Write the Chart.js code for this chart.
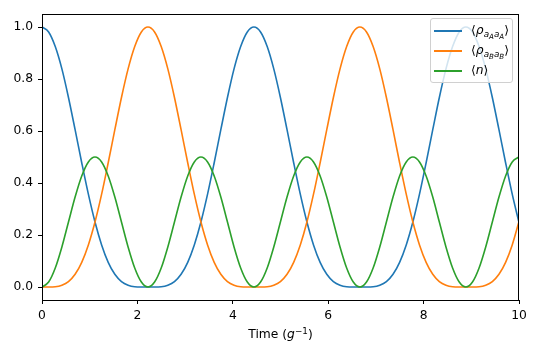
<!DOCTYPE html>
<html>
<head>
<meta charset="utf-8">
<script src="https://cdn.jsdelivr.net/npm/chart.js@4.4.1/dist/chart.umd.min.js"></script>
<style>
  body { margin: 0; background: #fff; }
  #wrap { position: relative; width: 540px; height: 360px; font-family: "DejaVu Sans", sans-serif; color: #000; }
  #legend {
    position: absolute; left: 430px; top: 18px; width: 83px; height: 65px;
    background: rgba(255,255,255,0.8); border: 1px solid #d0d0d0; border-radius: 3px;
    box-sizing: border-box; padding-top: 2px;
  }
  .row { position: relative; height: 20px; line-height: 20px; font-size: 12.3px; }
  .row .sw { position: absolute; left: 3px; top: 9px; width: 28px; height: 2px; }
  .row .tx { position: absolute; left: 40px; top: -1px; white-space: nowrap; }
  .row sub { font-size: 72%; vertical-align: -0.3em; line-height: 0; }
  .row sub sub { font-size: 80%; vertical-align: -0.25em; }
  #xtitle { position: absolute; left: 180px; width: 201px; top: 327px; text-align: center; font-size: 12.3px; }
  #xtitle sup { font-size: 72%; vertical-align: 0.45em; line-height: 0; }
</style>
</head>
<body>
<div id="wrap">
  <canvas id="chart" width="540" height="360"></canvas>
  <div id="legend"></div>
  <div id="xtitle">Time (<i>g</i><sup>−1</sup>)</div>
</div>
<script>
// time axis (g^-1)
const time = [
  0, 0.139, 0.278, 0.417, 0.555, 0.694, 0.833, 0.972, 1.111, 1.250, 1.388, 1.527, 1.666, 1.805, 1.944, 2.083,
  2.221, 2.360, 2.499, 2.638, 2.777, 2.916, 3.055, 3.193, 3.332, 3.471, 3.610, 3.749, 3.888, 4.026, 4.165, 4.304,
  4.443, 4.582, 4.721, 4.859, 4.998, 5.137, 5.276, 5.415, 5.554, 5.692, 5.831, 5.970, 6.109, 6.248, 6.387, 6.526,
  6.664, 6.803, 6.942, 7.081, 7.220, 7.359, 7.497, 7.636, 7.775, 7.914, 8.053, 8.192, 8.330, 8.469, 8.608, 8.747,
  8.886, 9.025, 9.163, 9.302, 9.441, 9.580, 9.719, 9.858, 10.0
];

const rhoA = [
  1, 0.981, 0.925, 0.839, 0.729, 0.605, 0.478, 0.357, 0.250, 0.162, 0.095, 0.049, 0.021, 0.007, 0.001, 0.000,
  0, 0.000, 0.001, 0.007, 0.021, 0.049, 0.095, 0.162, 0.250, 0.357, 0.478, 0.605, 0.729, 0.839, 0.925, 0.981,
  1, 0.981, 0.925, 0.839, 0.729, 0.605, 0.478, 0.357, 0.250, 0.162, 0.095, 0.049, 0.021, 0.007, 0.001, 0.000,
  0, 0.000, 0.001, 0.007, 0.021, 0.049, 0.095, 0.162, 0.250, 0.357, 0.478, 0.605, 0.729, 0.839, 0.925, 0.981,
  1, 0.981, 0.925, 0.839, 0.729, 0.605, 0.478, 0.357, 0.248
];

const rhoB = [
  0, 0.000, 0.001, 0.007, 0.021, 0.049, 0.095, 0.162, 0.250, 0.357, 0.478, 0.605, 0.729, 0.839, 0.925, 0.981,
  1, 0.981, 0.925, 0.839, 0.729, 0.605, 0.478, 0.357, 0.250, 0.162, 0.095, 0.049, 0.021, 0.007, 0.001, 0.000,
  0, 0.000, 0.001, 0.007, 0.021, 0.049, 0.095, 0.162, 0.250, 0.357, 0.478, 0.605, 0.729, 0.839, 0.925, 0.981,
  1, 0.981, 0.925, 0.839, 0.729, 0.605, 0.478, 0.357, 0.250, 0.162, 0.095, 0.049, 0.021, 0.007, 0.001, 0.000,
  0, 0.000, 0.001, 0.007, 0.021, 0.049, 0.095, 0.162, 0.252
];

const nMean = [
  0, 0.019, 0.073, 0.154, 0.250, 0.346, 0.427, 0.481, 0.500, 0.481, 0.427, 0.346, 0.250, 0.154, 0.073, 0.019,
  0, 0.019, 0.073, 0.154, 0.250, 0.346, 0.427, 0.481, 0.500, 0.481, 0.427, 0.346, 0.250, 0.154, 0.073, 0.019,
  0, 0.019, 0.073, 0.154, 0.250, 0.346, 0.427, 0.481, 0.500, 0.481, 0.427, 0.346, 0.250, 0.154, 0.073, 0.019,
  0, 0.019, 0.073, 0.154, 0.250, 0.346, 0.427, 0.481, 0.500, 0.481, 0.427, 0.346, 0.250, 0.154, 0.073, 0.019,
  0, 0.019, 0.073, 0.154, 0.250, 0.346, 0.427, 0.481, 0.500
];

const xTicks = [0, 2, 4, 6, 8, 10];
const yTicks = [0, 0.2, 0.4, 0.6, 0.8, 1.0];

const seriesNames = [
  '⟨<i>ρ</i><sub><i>a</i><sub><i>A</i></sub><i>a</i><sub><i>A</i></sub></sub>⟩',
  '⟨<i>ρ</i><sub><i>a</i><sub><i>B</i></sub><i>a</i><sub><i>B</i></sub></sub>⟩',
  '⟨<i>n</i>⟩'
];
const seriesColors = ['#1f77b4', '#ff7f0e', '#2ca02c'];
const seriesData = [rhoA, rhoB, nMean];

const toPoints = ys => ys.map((y, i) => ({ x: time[i], y: y }));

// matplotlib-style box around the axes
const frame = {
  id: 'frame',
  afterDraw(chart) {
    const { ctx, chartArea: a } = chart;
    ctx.save();
    ctx.strokeStyle = '#000';
    ctx.lineWidth = 1;
    ctx.strokeRect(Math.round(a.left) + 0.5, Math.round(a.top) + 0.5,
      Math.round(a.right - a.left) - 1, Math.round(a.bottom - a.top));
    ctx.restore();
  }
};

const tickFont = { family: 'DejaVu Sans', size: 12.3 };

new Chart(document.getElementById('chart'), {
  type: 'line',
  data: {
    datasets: seriesData.map((ys, i) => ({
      label: seriesNames[i],
      data: toPoints(ys),
      borderColor: seriesColors[i],
      borderWidth: 1.6,
      pointRadius: 0,
      fill: false,
      cubicInterpolationMode: 'monotone',
      order: seriesData.length - i,
    })),
  },
  options: {
    responsive: false,
    animation: false,
    devicePixelRatio: 1,
    layout: { padding: { top: 14, right: 21, left: 0, bottom: 0 } },
    plugins: { legend: { display: false }, tooltip: { enabled: false } },
    scales: {
      x: {
        type: 'linear',
        min: 0,
        max: 10,
        afterBuildTicks: s => { s.ticks = xTicks.map(v => ({ value: v })); },
        afterFit: s => { s.height = 60; },
        ticks: { font: tickFont, color: '#000', padding: 4, maxRotation: 0, callback: v => String(v) },
        grid: { drawOnChartArea: false, drawTicks: true, tickLength: 4, color: '#000' },
        border: { display: false },
      },
      y: {
        type: 'linear',
        min: -0.05,
        max: 1.05,
        afterBuildTicks: s => { s.ticks = yTicks.map(v => ({ value: v })); },
        afterFit: s => { s.width = 42; },
        ticks: { font: tickFont, color: '#000', padding: 5, callback: v => v.toFixed(1) },
        grid: { drawOnChartArea: false, drawTicks: true, tickLength: 4, color: '#000' },
        border: { display: false },
      },
    },
  },
  plugins: [frame],
});

// legend drawn as html so the subscripts stay real text
const legend = document.getElementById('legend');
seriesNames.forEach((name, i) => {
  const row = document.createElement('div');
  row.className = 'row';
  row.innerHTML = '<span class="sw" style="background:' + seriesColors[i] + '"></span><span class="tx">' + name + '</span>';
  legend.appendChild(row);
});
</script>
</body>
</html>
